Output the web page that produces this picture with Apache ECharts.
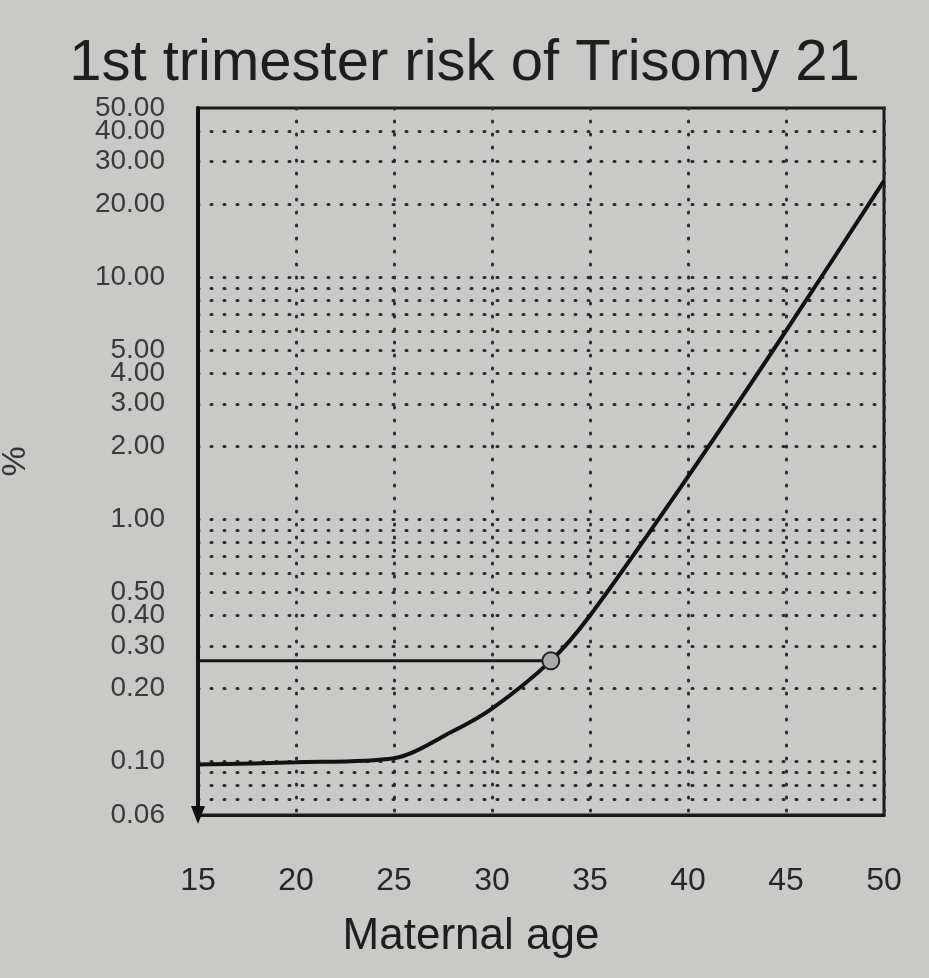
<!DOCTYPE html>
<html>
<head>
<meta charset="utf-8">
<script src="https://cdn.jsdelivr.net/npm/echarts@6.0.0/dist/echarts.min.js"></script>
<style>
html, body { margin: 0; padding: 0; background: #c9c9c7; }
#main { width: 929px; height: 978px; }
</style>
</head>
<body>
<div id="main"></div>
<script>
// values
var ages = [15, 20, 25, 28, 30, 33, 35, 40, 45, 50];
var risk = [0.097, 0.099, 0.103, 0.133, 0.165, 0.26, 0.4, 1.5, 6, 25];
var refAge = 33;   // marked point
var refRisk = 0.26;
var yLabelValues = [0.06, 0.1, 0.2, 0.3, 0.4, 0.5, 1, 2, 3, 4, 5, 10, 20, 30, 40, 50];
var yGridValues = [0.07, 0.08, 0.09, 0.1, 0.2, 0.3, 0.4, 0.5, 0.6, 0.7, 0.8, 0.9,
  1, 2, 3, 4, 5, 6, 7, 8, 9, 10, 20, 30, 40];

var curve = ages.map(function (a, i) { return [a, risk[i]]; });
var dotted = { color: '#2b2b2b', width: 3, type: [1, 12], cap: 'round' };

// echarts hides the label next to the max one when they overlap,
// so 40.00 goes on a second, label-only axis
var mainLabels = yLabelValues.filter(function (v) { return v !== 40; });
var extraLabels = yLabelValues.filter(function (v) { return v === 40; });

var labelStyle = {
  showMaxLabel: true,
  showMinLabel: true,
  hideOverlap: false,
  margin: 33,
  fontFamily: 'Liberation Sans',
  fontSize: 28,
  color: '#3a3a3a',
  formatter: function (v) { return Number(v).toFixed(2); }
};

var myChart = echarts.init(document.getElementById('main'));
var option = {
  backgroundColor: '#c9c9c7',
  animation: false,
  title: {
    text: '1st trimester risk of Trisomy 21',
    left: 'center',
    top: 30,
    textStyle: {
      fontFamily: 'Liberation Sans',
      fontSize: 58,
      fontWeight: 'normal',
      color: '#1e1e1e'
    }
  },
  grid: {
    left: 198,
    right: 45,
    top: 108,
    bottom: 163,
    outerBoundsMode: 'none',
    show: true,
    borderColor: '#1a1a1a',
    borderWidth: 3
  },
  xAxis: {
    type: 'value',
    min: 15,
    max: 50,
    interval: 5,
    name: 'Maternal age',
    nameLocation: 'middle',
    nameGap: 100,
    nameTextStyle: {
      fontFamily: 'Liberation Sans', fontSize: 44, color: '#1e1e1e',
      padding: [0, 140, 0, 0]
    },
    axisLine: { show: true, lineStyle: { color: '#1a1a1a', width: 3 } },
    axisTick: { show: false },
    axisLabel: {
      margin: 50,
      fontFamily: 'Liberation Sans',
      fontSize: 32,
      color: '#262626'
    },
    splitLine: { show: true, lineStyle: dotted }
  },
  yAxis: [{
    type: 'log',
    min: 0.06,
    max: 50,
    name: '%',
    nameLocation: 'middle',
    nameRotate: 90,
    nameGap: 165,
    nameTextStyle: { fontFamily: 'Liberation Sans', fontSize: 34, color: '#333' },
    axisLine: { show: true, lineStyle: { color: '#111', width: 4 } },
    axisTick: { show: false, customValues: yGridValues },
    axisLabel: Object.assign({ customValues: mainLabels }, labelStyle),
    splitLine: { show: true, lineStyle: dotted }
  }, {
    type: 'log',
    min: 0.06,
    max: 50,
    position: 'left',
    offset: 0,
    axisLine: { show: false },
    axisTick: { show: false },
    splitLine: { show: false },
    axisLabel: Object.assign({ customValues: extraLabels }, labelStyle)
  }],
  series: [{
    name: 'risk',
    type: 'line',
    data: curve,
    smooth: 0.3,
    symbol: 'none',
    lineStyle: { color: '#121212', width: 4 },
    z: 3
  }, {
    name: 'reference',
    type: 'line',
    symbol: 'none',
    showSymbol: true,
    lineStyle: { color: '#161616', width: 3 },
    itemStyle: { color: '#111' },
    data: [
      { value: [15, 0.06], symbol: 'triangle', symbolRotate: 180, symbolSize: [14, 18] },
      [15, refRisk],
      { value: [refAge, refRisk], symbol: 'circle', symbolSize: 17,
        itemStyle: { color: '#a9a9a7', borderColor: '#222', borderWidth: 2 } }
    ],
    z: 4
  }]
};

myChart.setOption(option);
</script>
</body>
</html>
